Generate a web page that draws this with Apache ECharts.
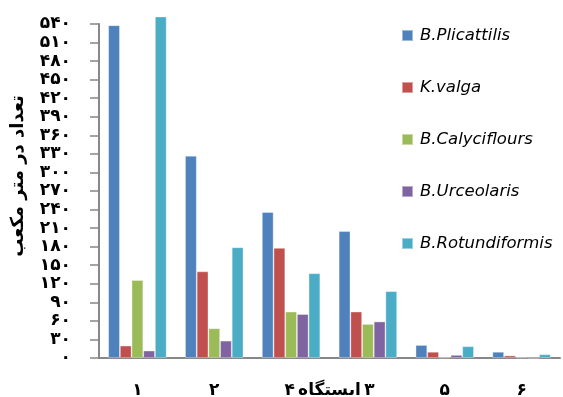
<!DOCTYPE html>
<html>
<head>
<meta charset="utf-8">
<script src="https://cdn.jsdelivr.net/npm/echarts@6/dist/echarts.min.js"></script>
<style>
  html, body { margin: 0; padding: 0; background: #fff; }
  #chart { width: 563px; height: 397px; }
</style>
</head>
<body>
<div id="chart"></div>
<script>
// Stations (category axis) and their Persian labels
const stations = ['۱', '۲', '۳', '۴', '۵', '۶'];
const stationTitle = 'ایستگاه';

// Y-axis tick labels, 0..540 step 30, in Persian digits
const yTickLabels = ['۰', '۳۰', '۶۰', '۹۰', '۱۲۰', '۱۵۰', '۱۸۰', '۲۱۰', '۲۴۰', '۲۷۰',
  '۳۰۰', '۳۳۰', '۳۶۰', '۳۹۰', '۴۲۰', '۴۵۰', '۴۸۰', '۵۱۰', '۵۴۰'];

// Abundance per cubic metre for each rotifer species
const seriesNames = ['B.Plicattilis', 'K.valga', 'B.Calyciflours', 'B.Urceolaris', 'B.Rotundiformis'];
const plicatilis    = [538, 327, 236, 205, 21, 10];
const kvalga        = [20, 140, 178, 75, 10, 4];
const calyciflorus  = [126, 48, 75, 55, 1, 1];
const urceolaris    = [12, 28, 71, 59, 5, 0];
const rotundiformis = [552, 179, 137, 108, 19, 6];

const seriesData = [plicatilis, kvalga, calyciflorus, urceolaris, rotundiformis];
const colors = ['#4F81BD', '#C0504D', '#9BBB59', '#8064A2', '#4BACC6'];

const persianFont = "'DejaVu Sans', sans-serif";
const axisGrey = '#878787';
const persianText = { fontFamily: persianFont, fontWeight: 'bold', fontSize: 17, color: '#000' };

const chart = echarts.init(document.getElementById('chart'), null, { renderer: 'canvas' });

chart.setOption({
  backgroundColor: '#ffffff',
  animation: false,
  color: colors,
  grid: { left: 99, right: 3, top: 24, bottom: 39, containLabel: false, outerBoundsMode: 'none' },
  legend: {
    orient: 'vertical',
    left: 401,
    top: 27,
    padding: 0,
    itemWidth: 11,
    itemHeight: 11,
    itemGap: 35,
    icon: 'rect',
    data: seriesNames,
    textStyle: {
      fontFamily: "'DejaVu Sans', sans-serif",
      fontStyle: 'italic',
      fontSize: 16.5,
      lineHeight: 16,
      color: '#000',
      padding: [0, 0, 0, 2]
    }
  },
  xAxis: {
    type: 'category',
    data: stations,
    // the two middle station numbers sit on either side of the axis title
    name: '{d|' + stations[3] + '} {d|' + stationTitle + '} {d|' + stations[2] + '}',
    nameLocation: 'middle',
    nameGap: 24,
    nameMoveOverlap: false,
    nameTextStyle: { rich: { d: persianText } },
    axisLine: { lineStyle: { color: axisGrey, width: 2 } },
    axisTick: { length: 8, lineStyle: { color: axisGrey, width: 1.5 } },
    axisLabel: Object.assign({
      margin: 24,
      formatter: (v, i) => (i === 2 || i === 3) ? '' : v
    }, persianText)
  },
  yAxis: {
    type: 'value',
    min: 0,
    max: 540,
    interval: 30,
    name: 'تعداد در متر مکعب',
    nameLocation: 'middle',
    nameGap: 72,
    nameMoveOverlap: false,
    nameTextStyle: {
      fontFamily: persianFont,
      fontWeight: 'bold',
      fontSize: 18,
      color: '#000',
      padding: [0, 0, 0, 30]
    },
    splitLine: { show: false },
    axisLine: { show: true, lineStyle: { color: axisGrey, width: 2 } },
    axisTick: { show: true, length: 9, lineStyle: { color: axisGrey, width: 1.5 } },
    axisLabel: Object.assign({
      margin: 28,
      formatter: v => yTickLabels[Math.round(v / 30)]
    }, persianText)
  },
  series: seriesNames.map((name, k) => ({
    name,
    type: 'bar',
    data: seriesData[k],
    clip: false,
    barGap: '0%',
    barCategoryGap: '24%',
    itemStyle: {
      color: colors[k],
      borderColor: 'rgba(255,255,255,0.45)',
      borderWidth: 0.8
    }
  }))
});
</script>
</body>
</html>
